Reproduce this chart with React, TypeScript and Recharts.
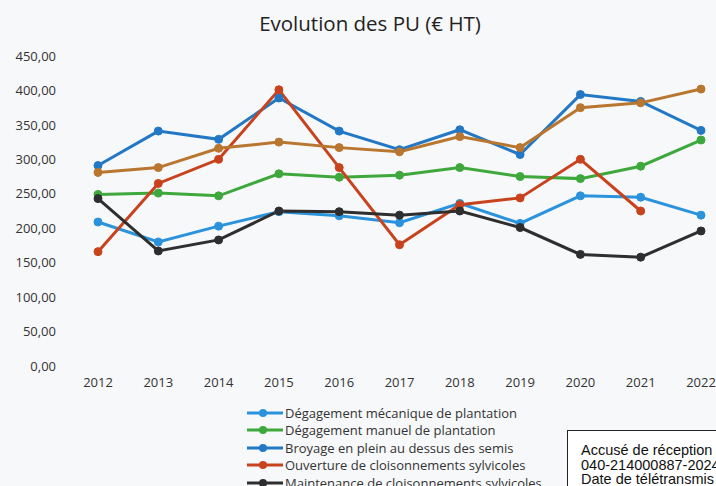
import React from "react";
import { LineChart, Line, XAxis, YAxis } from "recharts";

const years = ["2012", "2013", "2014", "2015", "2016", "2017", "2018", "2019", "2020", "2021", "2022"];
const mecanique = [209, 180, 203, 224, 218, 208, 236, 207, 247, 245, 219];
const manuel = [249, 251, 247, 279, 274, 277, 288, 275, 272, 290, 328];
const broyage = [291, 341, 329, 389, 341, 314, 343, 307, 394, 384, 342];
const ouverture = [166, 265, 300, 401, 288, 176, 234, 244, 300, 225, null];
const maintenance = [243, 167, 183, 225, 224, 219, 225, 201, 162, 158, 196];
const serie6 = [281, 288, 316, 325, 317, 311, 333, 317, 375, 382, 402];
const yTicks = [0, 50, 100, 150, 200, 250, 300, 350, 400, 450];
const stampLines = ["Accusé de réception", "040-214000887-2024", "Date de télétransmis"];

const series = [
  { key: "mecanique", name: "Dégagement mécanique de plantation", color: "#2b93dc", values: mecanique, legend: true },
  { key: "manuel", name: "Dégagement manuel de plantation", color: "#3fa83c", values: manuel, legend: true },
  { key: "broyage", name: "Broyage en plein au dessus des semis", color: "#2278c4", values: broyage, legend: true },
  { key: "ouverture", name: "Ouverture de cloisonnements sylvicoles", color: "#c8431d", values: ouverture, legend: true },
  { key: "maintenance", name: "Maintenance de cloisonnements sylvicoles", color: "#2e2e2e", values: maintenance, legend: true },
  { key: "serie6", name: "Série 6", color: "#b9762f", values: serie6, legend: false },
];

const data = years.map((y, i) => {
  const row: any = { year: y };
  series.forEach((s) => {
    row[s.key] = s.values[i];
  });
  return row;
});

const font = "'Open Sans', 'Noto Sans', sans-serif";

export default function App() {
  return (
    <div
      style={{
        position: "absolute",
        left: 0,
        top: 0,
        width: 716,
        height: 486,
        overflow: "hidden",
        background: "#f7f8fa",
        fontFamily: font,
      }}
    >
      <div
        style={{
          position: "absolute",
          left: 0,
          top: 9,
          width: 740,
          textAlign: "center",
          fontSize: 20.5,
          color: "#222",
        }}
      >
        Evolution des PU (€ HT)
      </div>
      <LineChart
        width={716}
        height={486}
        data={data}
        margin={{ top: 56, right: 15, bottom: 90, left: 18 }}
        style={{ position: "absolute", left: 0, top: 0 }}
      >
        <XAxis
          dataKey="year"
          scale="point"
          axisLine={false}
          tickLine={false}
          tickMargin={6}
          tick={{ fontSize: 13, fill: "#333", fontFamily: font }}
          height={30}
        />
        <YAxis
          domain={[0, 450]}
          ticks={yTicks}
          axisLine={false}
          tickLine={false}
          width={80}
          tickMargin={36}
          tickFormatter={(v: number) => v.toFixed(2).replace(".", ",")}
          tick={{ fontSize: 13, fill: "#333", fontFamily: font }}
        />
        {series.map((s) => (
          <Line
            key={s.key}
            dataKey={s.key}
            name={s.name}
            stroke={s.color}
            strokeWidth={3}
            dot={{ r: 4, fill: s.color, stroke: s.color, strokeWidth: 1 }}
            isAnimationActive={false}
            connectNulls={false}
          />
        ))}
      </LineChart>
      <div style={{ position: "absolute", left: 247, top: 404 }}>
        {series
          .filter((s) => s.legend)
          .map((s) => (
            <div key={s.key} style={{ display: "flex", alignItems: "center", height: 17.5 }}>
              <svg width={36} height={10} style={{ marginRight: 2 }}>
                <line x1={0} y1={5} x2={36} y2={5} stroke={s.color} strokeWidth={3} />
                <circle cx={16} cy={5} r={4} fill={s.color} />
              </svg>
              <span style={{ fontSize: 13, color: "#333", whiteSpace: "nowrap" }}>{s.name}</span>
            </div>
          ))}
      </div>
      <div
        style={{
          position: "absolute",
          left: 567,
          top: 430,
          width: 200,
          height: 80,
          border: "1px solid #222",
          background: "#fff",
          fontFamily: "'Liberation Sans', Arial, sans-serif",
          fontSize: 14.5,
          lineHeight: "14.5px",
          color: "#111",
          padding: "12px 0 0 13px",
          whiteSpace: "nowrap",
          boxSizing: "border-box",
        }}
      >
        {stampLines.map((t) => (
          <div key={t}>{t}</div>
        ))}
      </div>
    </div>
  );
}
